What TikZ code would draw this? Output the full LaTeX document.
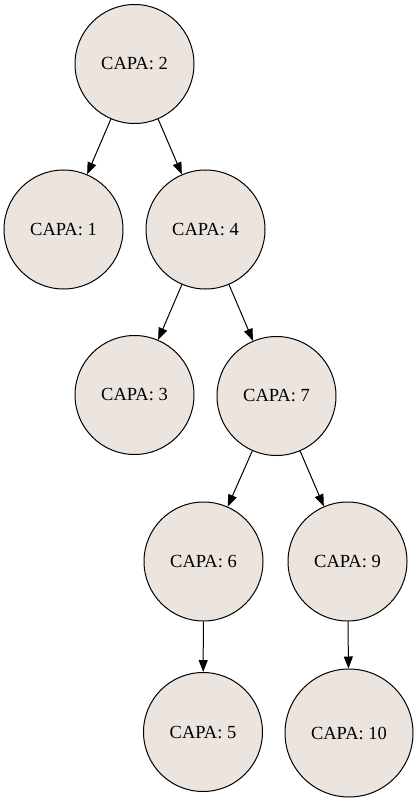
\documentclass[tikz,border=0pt]{standalone}
\usepackage{fontspec}
\setmainfont{Liberation Serif}
\usetikzlibrary{arrows.meta}
\definecolor{nodefill}{HTML}{EBE4DF}
\begin{document}
\begin{tikzpicture}[x=1pt,y=-1pt,
  capa/.style={circle,draw=black,fill=nodefill,line width=1pt,minimum size=119pt,inner sep=0pt,font=\fontsize{18.5}{21}\selectfont},
  big/.style={minimum size=128pt},
  edge/.style={-{Triangle[length=12pt,width=9pt]},line width=1pt}]
\useasboundingbox (0,0) rectangle (419,802);
\node[capa] (n2) at (134.5,64) {CAPA: 2};
\node[capa] (n1) at (63.5,229.5) {CAPA: 1};
\node[capa] (n4) at (205.5,229.5) {CAPA: 4};
\node[capa] (n3) at (134.5,395) {CAPA: 3};
\node[capa] (n7) at (276.5,396) {CAPA: 7};
\node[capa] (n6) at (203.5,561.5) {CAPA: 6};
\node[capa] (n9) at (347.5,561.5) {CAPA: 9};
\node[capa] (n5) at (203,732) {CAPA: 5};
\node[capa,big] (n10) at (349,733) {CAPA: 10};
\draw[edge] (n2) -- (n1);
\draw[edge] (n2) -- (n4);
\draw[edge] (n4) -- (n3);
\draw[edge] (n4) -- (n7);
\draw[edge] (n7) -- (n6);
\draw[edge] (n7) -- (n9);
\draw[edge] (n6) -- (n5);
\draw[edge] (n9) -- (n10);
\end{tikzpicture}
\end{document}
